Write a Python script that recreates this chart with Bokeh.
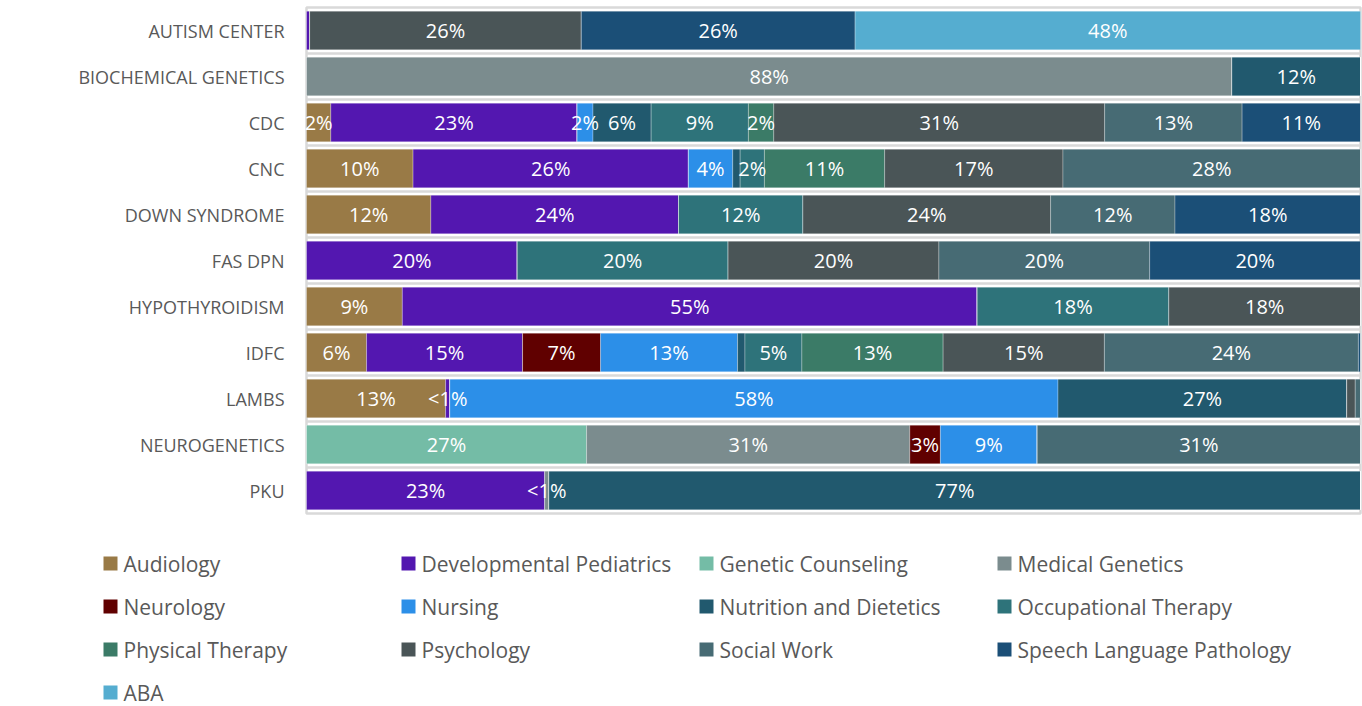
import numpy as np
from bokeh.plotting import figure
from bokeh.models import ColumnDataSource, Range1d
from bokeh.core.properties import value
from bokeh.embed import file_html
from bokeh.resources import INLINE

# ---------------- data ----------------
categories = ["AUTISM CENTER", "BIOCHEMICAL GENETICS", "CDC", "CNC", "DOWN SYNDROME",
              "FAS DPN", "HYPOTHYROIDISM", "IDFC", "LAMBS", "NEUROGENETICS", "PKU"]

series = ["Audiology", "Developmental Pediatrics", "Genetic Counseling", "Medical Genetics",
          "Neurology", "Nursing", "Nutrition and Dietetics", "Occupational Therapy",
          "Physical Therapy", "Psychology", "Social Work", "Speech Language Pathology", "ABA"]

colors = ["#997a46", "#5317b0", "#74bca6", "#7b8c8e",
          "#600000", "#2c8fe8", "#21596e", "#2e737a",
          "#3b7b67", "#4a5557", "#476b74", "#1b4f77", "#55add0"]

# share (%) of each discipline per clinic, in the order of `categories`
audiology          = [0.0, 0.0, 2.3, 10.1, 11.8, 0.0, 9.1, 5.7, 13.2, 0.0, 0.0]
dev_pediatrics     = [0.3, 0.0, 23.3, 26.1, 23.5, 20.0, 54.6, 14.8, 0.4, 0.0, 22.6]
genetic_counseling = [0.0, 0.0, 0.0, 0.0, 0.0, 0.0, 0.0, 0.0, 0.0, 26.6, 0.0]
medical_genetics   = [0.0, 87.8, 0.0, 0.0, 0.0, 0.0, 0.0, 0.0, 0.0, 30.7, 0.4]
neurology          = [0.0, 0.0, 0.0, 0.0, 0.0, 0.0, 0.0, 7.4, 0.0, 2.9, 0.0]
nursing            = [0.0, 0.0, 1.5, 4.2, 0.0, 0.0, 0.0, 13.0, 57.7, 9.2, 0.0]
nutrition          = [0.0, 12.2, 5.5, 0.7, 0.0, 0.0, 0.0, 0.7, 27.4, 0.0, 77.0]
occupational       = [0.0, 0.0, 9.2, 2.3, 11.8, 20.0, 18.2, 5.4, 0.0, 0.0, 0.0]
physical           = [0.0, 0.0, 2.4, 11.4, 0.0, 0.0, 0.0, 13.4, 0.0, 0.0, 0.0]
psychology         = [25.8, 0.0, 31.3, 16.9, 23.5, 20.0, 18.2, 15.3, 0.8, 0.0, 0.0]
social_work        = [0.0, 0.0, 13.0, 28.2, 11.8, 20.0, 0.0, 24.1, 0.5, 30.7, 0.0]
speech_language    = [26.0, 0.0, 11.2, 0.0, 17.6, 20.0, 0.0, 0.2, 0.0, 0.0, 0.0]
aba                = [48.0, 0.0, 0.0, 0.0, 0.0, 0.0, 0.0, 0.0, 0.0, 0.0, 0.0]

series_values = [audiology, dev_pediatrics, genetic_counseling, medical_genetics,
                 neurology, nursing, nutrition, occupational, physical, psychology,
                 social_work, speech_language, aba]

# segments that carry no data label in the original
unlabeled = [("AUTISM CENTER", "Developmental Pediatrics"),
             ("CNC", "Nutrition and Dietetics"),
             ("IDFC", "Nutrition and Dietetics"),
             ("IDFC", "Speech Language Pathology"),
             ("LAMBS", "Psychology"),
             ("LAMBS", "Social Work")]

# ---------------- layout constants (pixels) ----------------
W, H = 1362, 706
PLOT_L, PLOT_R = 306, 1360          # bar area, x
ROW0, ROW_PITCH = 30, 46            # centre of first bar row, row pitch
LEG_COL0, LEG_COL_PITCH = 103, 298  # legend columns (square left edge)
LEG_ROW0, LEG_ROW_PITCH = 563, 43   # legend rows (centre)
FONT = "Open Sans"
GREY_TEXT = "#595959"
GRID = "#d9d9d9"

n = len(categories)
xscale = 100.0 / (PLOT_R - PLOT_L)          # data units per pixel (x)


def xd(px):                                  # page px -> data x
    return (px - PLOT_L) * xscale


def yd(py):                                  # page px -> data row index
    return (py - ROW0) / ROW_PITCH


p = figure(width=W, height=H,
           x_range=Range1d(xd(0), xd(W)), y_range=Range1d(yd(H), yd(0)),
           toolbar_location=None, output_backend="svg",
           min_border=0, outline_line_color=None)
p.axis.visible = False
p.grid.visible = False

# ---------------- stacked bars (100%) ----------------
rows = list(range(n))
vals = np.array(series_values, dtype=float)          # series x categories
totals = vals.sum(axis=0)
shares = vals / totals * 100.0
lefts = np.vstack([np.zeros(n), np.cumsum(shares, axis=0)[:-1]])

# plot-area frame and row separators
p.segment(x0=[0.0] * (n - 1), x1=[100.0] * (n - 1),
          y0=[r + 0.5 for r in rows[:-1]], y1=[r + 0.5 for r in rows[:-1]],
          line_color=GRID, line_width=2.5)
p.quad(left=[0.0], right=[100.0], top=[-0.5], bottom=[n - 0.5],
       fill_color=None, line_color=GRID, line_width=2.5)

lab_x, lab_y, lab_t = [], [], []
for s, name in enumerate(series):
    src = ColumnDataSource(dict(y=rows, left=lefts[s], right=lefts[s] + shares[s]))
    p.hbar(y="y", left="left", right="right", height=0.84, source=src,
           fill_color=colors[s], line_color="white", line_alpha=0.35, line_width=0.8)
    for c, cat in enumerate(categories):
        v = vals[s][c]
        if v <= 0 or (cat, name) in unlabeled:
            continue
        lab_x.append(lefts[s][c] + shares[s][c] / 2.0)
        lab_y.append(rows[c])
        lab_t.append(f"{round(v)}%" if v >= 1 else "<1%")

p.text(x="x", y="y", text="t", source=ColumnDataSource(dict(x=lab_x, y=lab_y, t=lab_t)),
       text_align="center", text_baseline="middle", text_color="white",
       text_font=value(FONT), text_font_size="20px")

# category labels (left of the bars)
p.text(x=[xd(PLOT_L - 22)] * n, y=rows, text=categories,
       text_align="right", text_baseline="middle", text_color=GREY_TEXT,
       text_font=value(FONT), text_font_size="18px")

# ---------------- legend (4 columns, Excel-style) ----------------
col_idx = [s % 4 for s in range(len(series))]
row_idx = [s // 4 for s in range(len(series))]
sq_x = [xd(LEG_COL0 + 7 + LEG_COL_PITCH * c) for c in col_idx]
sq_y = [yd(LEG_ROW0 + LEG_ROW_PITCH * r) for r in row_idx]
tx = [xd(LEG_COL0 + 20 + LEG_COL_PITCH * c) for c in col_idx]

p.rect(x="x", y="y", width=14, height=14, width_units="screen", height_units="screen",
       fill_color="color", line_color=None,
       source=ColumnDataSource(dict(x=sq_x, y=sq_y, color=colors)))
p.text(x="x", y="y", text="t",
       source=ColumnDataSource(dict(x=tx, y=sq_y, t=series)),
       text_align="left", text_baseline="middle", text_color=GREY_TEXT,
       text_font=value(FONT), text_font_size="21px")

open("out.html", "w").write(file_html(p, INLINE))
